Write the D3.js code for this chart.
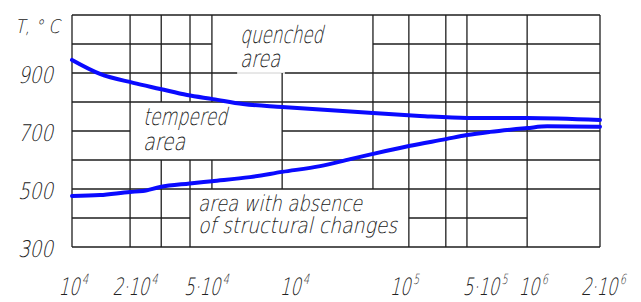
<!DOCTYPE html>
<html>
<head>
<meta charset="utf-8">
<script src="https://cdn.jsdelivr.net/npm/d3@7"></script>
<style>
  body { margin: 0; background: #fff; }
  svg { display: block; }
  text { font-family: "DejaVu Sans", sans-serif; font-weight: 200; fill: #222; }
</style>
</head>
<body>
<svg width="641" height="302"></svg>
<script>
// Ось X нарисована "в делениях" (0..100 % ширины поля), т.к. подписи не образуют настоящей лог-шкалы
const yTicks = [300, 500, 700, 900];
const xTickText = ["10", "2·10", "5·10", "10", "10", "5·10", "10", "2·10"];
const xTickExp = ["4", "4", "4", "4", "5", "5", "6", "6"];
const xTickPos = [0, 11.7, 25.2, 41.9, 62.7, 78, 87.1, 100.4];

// горизонтальные линии сетки: уровень T и отрезки по X
const hGridT = [1100, 1000, 900, 800, 700, 600, 500, 400, 300];
const hGridSeg = [
    [[0, 100]],
    [[0, 26.5], [57, 100]],
    [[0, 31.3], [40.3, 100]],
    [[0, 100]],
    [[0, 11], [39.8, 100]],
    [[0, 100]],
    [[0, 100]],
    [[0, 22.35], [63.8, 86.2]],
    [[0, 100]]
];
// вертикальные линии сетки: положение и отрезки по T
const vGridX = [0, 11, 16.9, 22.35, 26.5, 39.8, 57, 63.8, 70.8, 74.8, 86.2, 100];
const vGridSeg = [
    [[300, 1100]],
    [[300, 1100]],
    [[800, 1100], [300, 600]],
    [[800, 1100], [300, 600]],
    [[800, 1100], [500, 600]],
    [[500, 900]],
    [[500, 1100]],
    [[300, 1100]],
    [[300, 1100]],
    [[300, 1100]],
    [[300, 1100]],
    [[300, 1100]]
];

const upperX = [0, 5.3, 11.6, 16.7, 21.8, 26.7, 32.4, 39.8, 57, 65.9, 74.8, 86.2, 100];
const upperT = [945, 897, 866, 845, 824, 810, 793, 783, 762, 752, 745, 745, 738];
const lowerX = [0, 5.3, 11, 13.4, 16.7, 22.3, 26.5, 33.7, 39.8, 47, 52.7, 57, 63.8, 70.8, 74.8, 79.2, 86.2, 90, 100];
const lowerT = [476, 479, 490, 493, 507, 519, 527, 541, 559, 579, 603, 621, 648, 672, 686, 697, 710, 716, 715];

const areaLines = [["quenched", "area"], ["tempered", "area"], ["area with absence", "of structural changes"]];

const svg = d3.select("svg");
const area = { left: 72, right: 600, top: 15, bottom: 247 };

const scX = d3.scaleLinear().domain([0, 100]).range([area.left, area.right]);
const scY = d3.scaleLinear().domain([300, 1100]).range([area.bottom, area.top]);

const grid = svg.append("g").attr("stroke", "#1e1e1e").attr("stroke-width", 1.3);

hGridT.forEach((t, i) => {
    hGridSeg[i].forEach(s => {
        grid.append("line")
            .attr("x1", scX(s[0])).attr("x2", scX(s[1]))
            .attr("y1", scY(t)).attr("y2", scY(t));
    });
});
// слабая линия под "area" в зоне закалки
grid.append("line")
    .attr("x1", scX(31.3)).attr("x2", scX(40.3))
    .attr("y1", scY(900)).attr("y2", scY(900))
    .attr("stroke", "#d0d0d0").attr("stroke-width", 1);

vGridX.forEach((x, i) => {
    vGridSeg[i].forEach(s => {
        grid.append("line")
            .attr("x1", scX(x)).attr("x2", scX(x))
            .attr("y1", scY(s[0])).attr("y2", scY(s[1]));
    });
});

const lineGen = d3.line().x(d => scX(d[0])).y(d => scY(d[1])).curve(d3.curveMonotoneX);

[[upperX, upperT], [lowerX, lowerT]].forEach(([xs, ts]) => {
    svg.append("path")
        .attr("d", lineGen(xs.map((x, i) => [x, ts[i]])))
        .attr("fill", "none")
        .attr("stroke", "#0a0aff")
        .attr("stroke-width", 4)
        .attr("stroke-linecap", "round");
});

// наклонный "чертёжный" текст
function slanted(x, y, anchor, size, condense) {
    return svg.append("text")
        .attr("transform", `translate(${x},${y}) skewX(-13) scale(${condense},1)`)
        .attr("text-anchor", anchor)
        .style("font-size", size + "px");
}

yTicks.forEach(t => {
    slanted(area.left - 19, scY(t) + 10, "end", 23, 0.8).text(t);
});

xTickText.forEach((s, i) => {
    const t = slanted(scX(xTickPos[i]), 295, "middle", 24, 0.68);
    t.append("tspan").text(s);
    t.append("tspan").attr("dy", -11).style("font-size", "14px").text(xTickExp[i]);
});

slanted(15, 33, "start", 19, 0.85).text("T, ° C");

// подписи областей
const areaPos = [
    { x: 240, y: 43, dy: 24, size: 24, w: [83, 40] },
    { x: 143, y: 125, dy: 25, size: 24, w: [84, 42] },
    { x: 198, y: 211, dy: 22, size: 22, w: [164, 199] }
];
areaLines.forEach((lines, i) => {
    const p = areaPos[i];
    lines.forEach((s, j) => {
        svg.append("text")
            .attr("transform", `translate(${p.x},${p.y + j * p.dy}) skewX(-13)`)
            .attr("textLength", p.w[j])
            .attr("lengthAdjust", "spacingAndGlyphs")
            .style("font-size", p.size + "px")
            .text(s);
    });
});
</script>
</body>
</html>
